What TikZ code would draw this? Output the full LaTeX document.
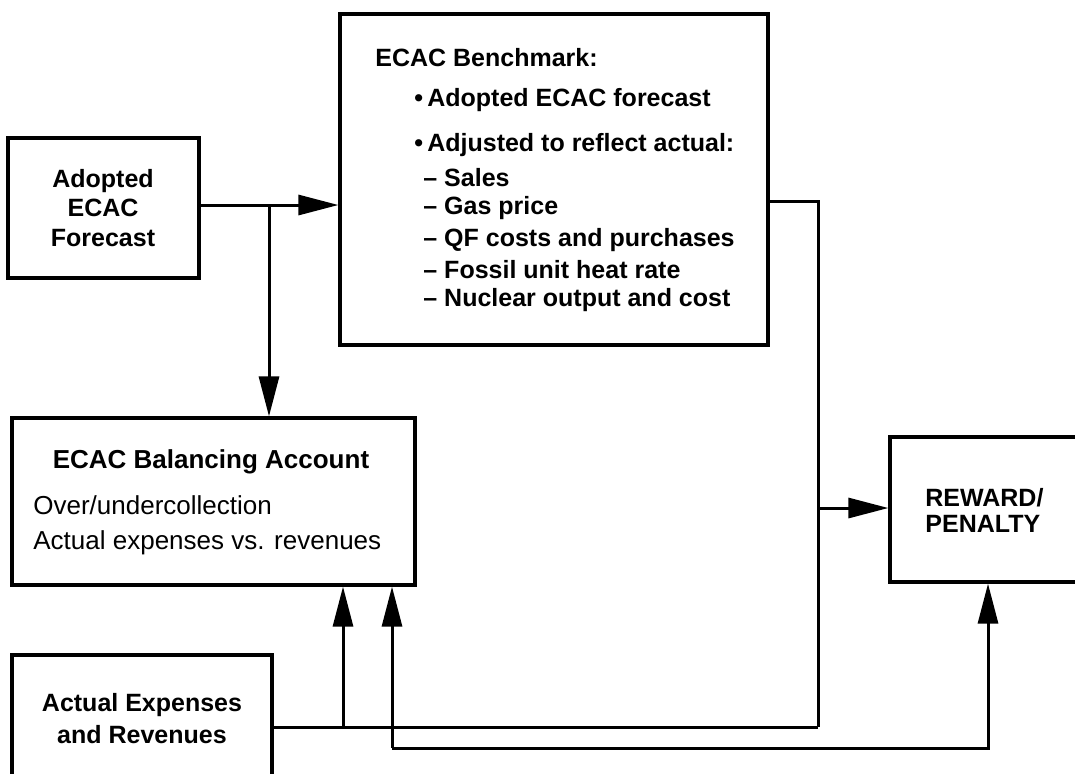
\documentclass[tikz,border=0pt]{standalone}
\usepackage{fontspec}
\setmainfont{Liberation Sans}
\usetikzlibrary{arrows.meta,fit}

\begin{document}
\begin{tikzpicture}[x=0.5pt,y=-0.5pt,
  box/.style={draw,line width=1.6pt,inner sep=0pt},
  flow/.style={line width=1.5pt,-{Triangle[length=20pt,width=10pt]}},
  wire/.style={line width=1.5pt},
  txt/.style={inner sep=0pt,font=\fontsize{13}{15}\selectfont},
  btxt/.style={inner sep=0pt,font=\fontsize{12.5}{15}\selectfont\bfseries}]
\useasboundingbox (0,0) rectangle (1075,773);
\clip (0,0) rectangle (1075,773);

% boxes
\node[box,fit={(8,138) (199,278)}] (forecast) {};
\node[box,fit={(340,14) (768,345)}] (bench) {};
\node[box,fit={(12,418) (415,585)}] (balance) {};
\node[box,fit={(12,655) (272,800)}] (actual) {};
\node[box,fit={(890,437) (1100,582)}] (reward) {};

% texts
\node[btxt,align=center,font=\fontsize{12.5}{14.8}\selectfont\bfseries] (forecasttxt) at (103,208) {Adopted\\ECAC\\Forecast};

\node[btxt,anchor=west] (benchhead) at (375,58) {ECAC Benchmark:};
\node[btxt,anchor=west] (benchitem1) at (414,100) {\textbullet\,Adopted ECAC forecast};
\node[btxt,anchor=west] (benchitem2) at (414,145) {\textbullet\,Adjusted to reflect actual:};
\node[btxt,anchor=west] (benchsub1) at (423,178) {-- Sales};
\node[btxt,anchor=west] (benchsub2) at (423,208) {-- Gas price};
\node[btxt,anchor=west] (benchsub3) at (423,240) {-- QF costs and purchases};
\node[btxt,anchor=west] (benchsub4) at (423,270) {-- Fossil unit heat rate};
\node[btxt,anchor=west] (benchsub5) at (423,300) {-- Nuclear output and cost};

\node[btxt,font=\fontsize{13}{15}\selectfont\bfseries] (balancehead) at (211,462) {ECAC Balancing Account};
\node[txt,anchor=west] (balanceline1) at (33,505) {Over/undercollection};
\node[txt,anchor=west] (balanceline2) at (33,543) {Actual expenses vs. revenues};

\node[btxt,align=center,font=\fontsize{12.5}{16}\selectfont\bfseries] (actualtxt) at (142,719) {Actual Expenses\\and Revenues};

\node[btxt,align=left,font=\fontsize{12.5}{13}\selectfont\bfseries,anchor=west] (rewardtxt) at (925,510) {REWARD/\\PENALTY};

% connectors
\coordinate (split1) at (269,205);
\draw[flow] (forecast.east |- split1) -- (bench.west |- split1);
\draw[flow] (split1) -- (split1 |- balance.north);

\coordinate (bout) at (818,201);
\coordinate (bdown) at (818,727);
\draw[wire] (bench.east |- bout) -- (bout) -- (bdown);
\coordinate (rin) at (818,508);
\draw[flow] (rin) -- (reward.west |- rin);

\draw[wire] (actual.east |- bdown) -- (bdown);
\coordinate (up1) at (343,727);
\draw[flow] (up1) -- (up1 |- balance.south);

\coordinate (loopl) at (392,748);
\coordinate (loopr) at (988,748);
\draw[flow] (loopl) -- (loopr) -- (loopr |- reward.south);
\draw[flow] (loopl) -- (loopl |- balance.south);
\end{tikzpicture}
\end{document}
